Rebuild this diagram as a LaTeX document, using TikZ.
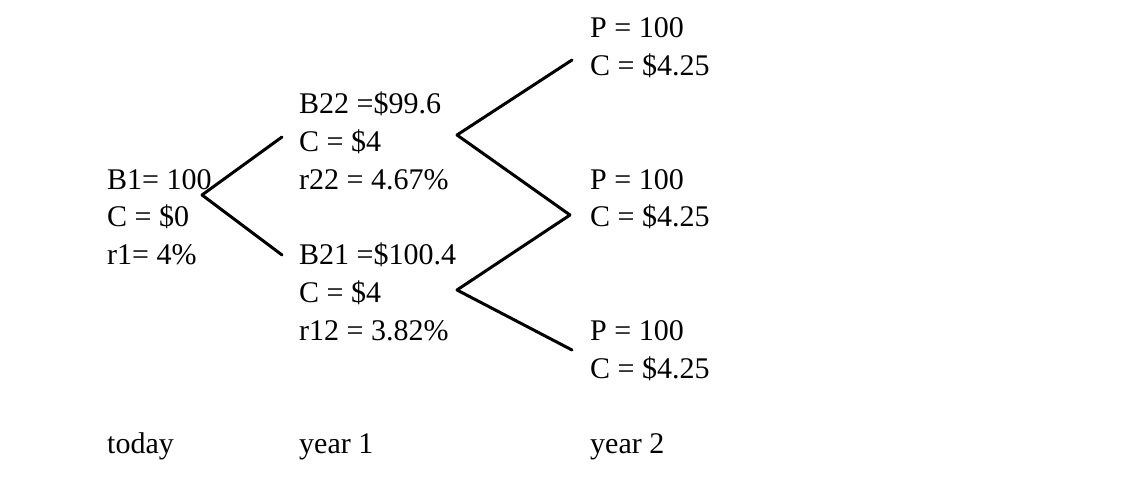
\documentclass[tikz,border=0pt]{standalone}
\usepackage{fontspec}
\setmainfont{Liberation Serif}
\begin{document}
\begin{tikzpicture}[x=1pt,y=-1pt,
  lbl/.style={anchor=base west, inner sep=0pt, font=\fontsize{30}{36}\selectfont},
  branch/.style={line width=3pt, line cap=round, line join=round}]
\useasboundingbox (0,0) rectangle (1137,478);
% left column
\node[lbl] (b1)  at (107,189.2) {B1= 100};
\node[lbl] (c1)  at (107,227.0) {C = \$0};
\node[lbl] (r1)  at (107,264.8) {r1= 4\%};
% middle column
\node[lbl] (b22) at (299,113.6) {B22 =\$99.6};
\node[lbl] (c22) at (299,151.4) {C = \$4};
\node[lbl] (r22) at (299,189.2) {r22 = 4.67\%};
\node[lbl] (b21) at (299,264.8) {B21 =\$100.4};
\node[lbl] (c21) at (299,302.6) {C = \$4};
\node[lbl] (r12) at (299,340.4) {r12 = 3.82\%};
% right column
\node[lbl] (p1) at (590,38.0)  {P = 100};
\node[lbl] (q1) at (590,75.8)  {C = \$4.25};
\node[lbl] (p2) at (590,189.2) {P = 100};
\node[lbl] (q2) at (590,227.0) {C = \$4.25};
\node[lbl] (p3) at (590,340.4) {P = 100};
\node[lbl] (q3) at (590,378.2) {C = \$4.25};
% time labels
\node[lbl] (t0) at (107,453.8) {today};
\node[lbl] (t1) at (299,453.8) {year 1};
\node[lbl] (t2) at (590,453.8) {year 2};
% branch points
\coordinate (f0) at (202,195);
\coordinate (u0) at (282,137);
\coordinate (d0) at (282,255);
\coordinate (fu) at (457,135);
\coordinate (uu) at (572,60);
\coordinate (mm) at (570,215);
\coordinate (fl) at (457,290);
\coordinate (dl) at (572,350);
\draw[branch] (u0) -- (f0) -- (d0);
\draw[branch] (uu) -- (fu) -- (mm);
\draw[branch] (mm) -- (fl) -- (dl);
\end{tikzpicture}
\end{document}
